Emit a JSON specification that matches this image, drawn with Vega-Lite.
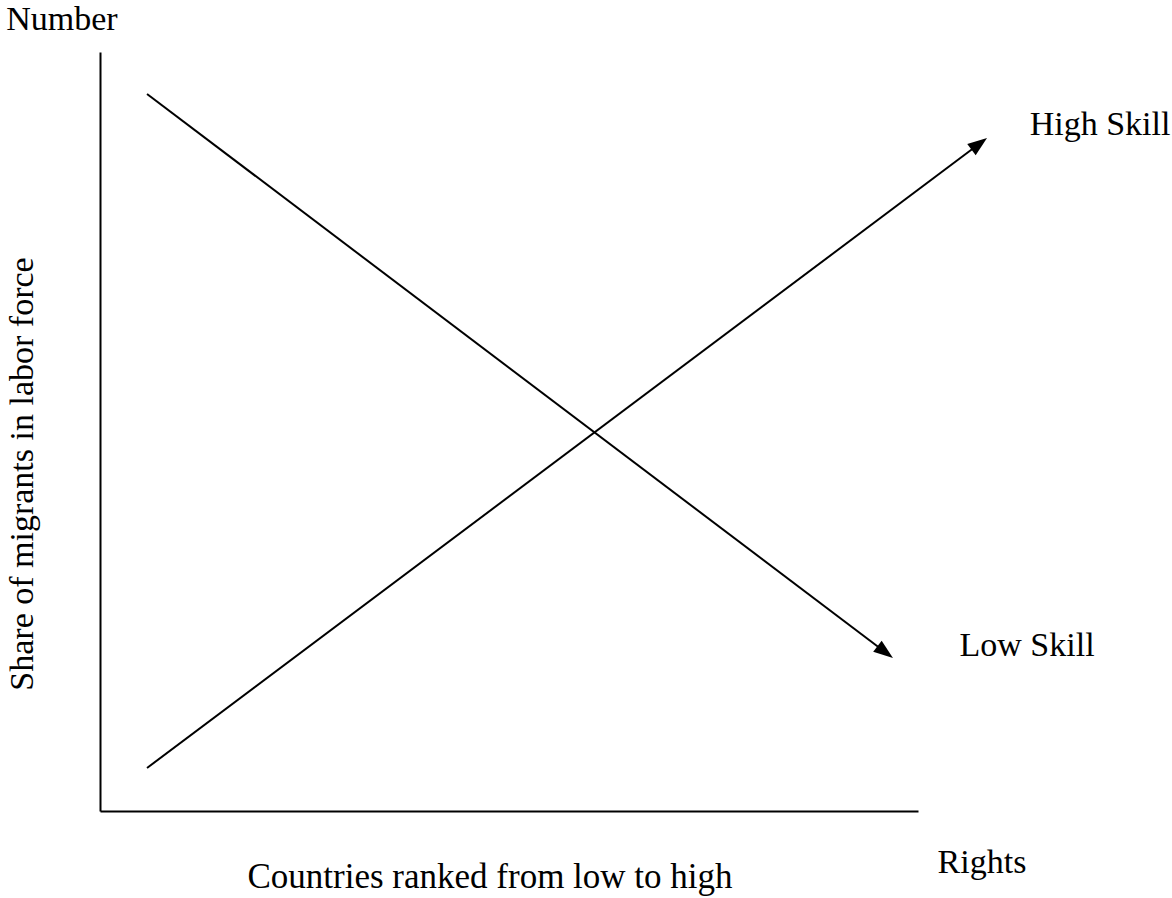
{
  "$schema": "https://vega.github.io/schema/vega-lite/v6.json",
  "width": 818,
  "height": 759,
  "autosize": {"type": "none"},
  "padding": {"left": 100, "top": 52, "right": 254, "bottom": 87},
  "background": "white",
  "config": {"view": {"stroke": null}, "font": "Liberation Serif"},
  "datasets": {
    "lines": [
      {"series": "Low Skill", "x": 5.75, "y": 94.47},
      {"series": "Low Skill", "x": 95.48, "y": 21.34},
      {"series": "High Skill", "x": 5.75, "y": 5.67},
      {"series": "High Skill", "x": 106.97, "y": 87.48}
    ],
    "arrows": [
      {"series": "Low Skill", "x": 96.94, "y": 20.16},
      {"series": "High Skill", "x": 108.44, "y": 88.67}
    ],
    "labels": [
      {"label": "Number", "x": -4.65, "y": 102.9},
      {"label": "High Skill", "x": 122.25, "y": 89.07},
      {"label": "Low Skill", "x": 113.33, "y": 20.42},
      {"label": "Rights", "x": 107.82, "y": -8.17}
    ],
    "xtitle": [
      {"label": "Countries ranked from low to high", "x": 47.68, "y": -10.14}
    ],
    "ytitle": [
      {"label": "Share of migrants in labor force", "x": -8.19, "y": 44.4}
    ]
  },
  "encoding": {
    "x": {
      "field": "x",
      "type": "quantitative",
      "scale": {"domain": [0, 100], "nice": false, "zero": false},
      "axis": {"title": null, "labels": false, "ticks": false, "grid": false, "domainColor": "black", "domainWidth": 2}
    },
    "y": {
      "field": "y",
      "type": "quantitative",
      "scale": {"domain": [0, 100], "nice": false, "zero": false},
      "axis": {"title": null, "labels": false, "ticks": false, "grid": false, "domainColor": "black", "domainWidth": 2}
    }
  },
  "layer": [
    {
      "data": {"name": "lines"},
      "mark": {"type": "line", "color": "black", "strokeWidth": 2},
      "encoding": {"detail": {"field": "series"}}
    },
    {
      "data": {"name": "arrows"},
      "transform": [{"filter": "datum.series == 'Low Skill'"}],
      "mark": {"type": "point", "shape": "M0,0L0.72,2L-0.72,2Z", "size": 380, "filled": true, "color": "black", "opacity": 1, "angle": 127.1}
    },
    {
      "data": {"name": "arrows"},
      "transform": [{"filter": "datum.series == 'High Skill'"}],
      "mark": {"type": "point", "shape": "M0,0L0.72,2L-0.72,2Z", "size": 380, "filled": true, "color": "black", "opacity": 1, "angle": 53.1}
    },
    {
      "data": {"name": "labels"},
      "mark": {"type": "text", "align": "center", "baseline": "alphabetic", "fontSize": 34, "color": "black"},
      "encoding": {"text": {"field": "label"}}
    },
    {
      "data": {"name": "xtitle"},
      "mark": {"type": "text", "align": "center", "baseline": "alphabetic", "fontSize": 35, "color": "black"},
      "encoding": {"text": {"field": "label"}}
    },
    {
      "data": {"name": "ytitle"},
      "mark": {"type": "text", "align": "center", "baseline": "alphabetic", "fontSize": 34, "color": "black", "angle": 270},
      "encoding": {"text": {"field": "label"}}
    }
  ]
}
